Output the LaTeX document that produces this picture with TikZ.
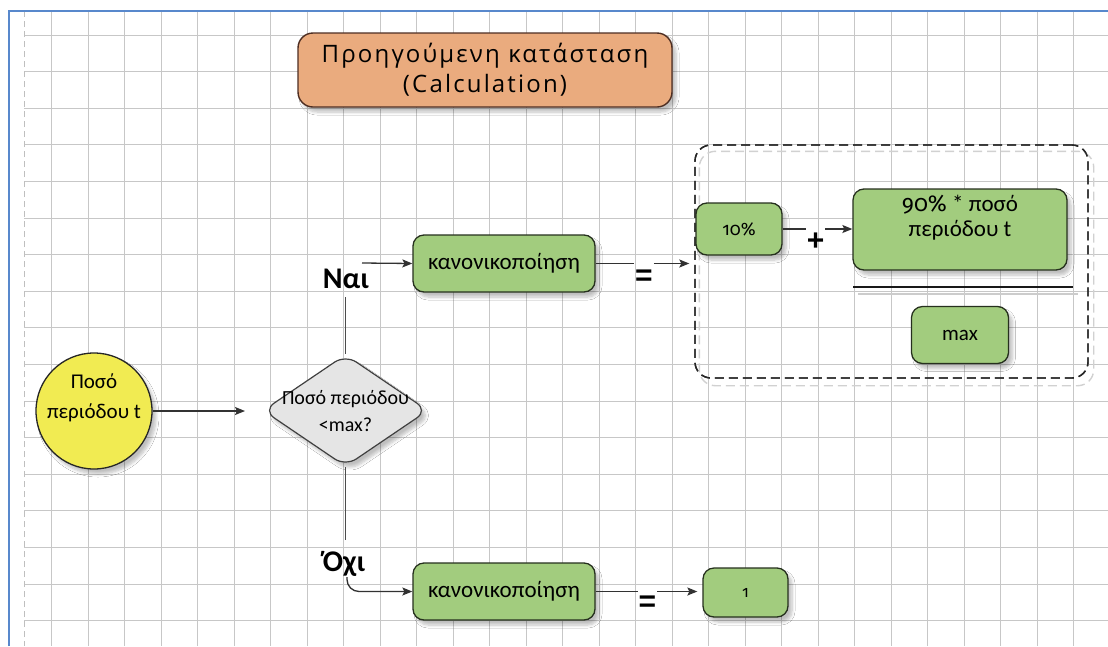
\documentclass[tikz,border=0pt]{standalone}
\usepackage{fontspec}
\setmainfont{Carlito}
\newfontfamily\titlefont{Open Sans}[LetterSpace=9]
\newfontfamily\oldnum{Fira Sans}[Numbers=OldStyle]
\newfontfamily\symfont{Liberation Sans}
\usetikzlibrary{shapes.geometric, arrows.meta, shadows.blur, calc}

\definecolor{boxgreen}{RGB}{162,204,126}
\definecolor{boxedge}{RGB}{38,48,30}
\definecolor{titlefill}{RGB}{234,171,126}
\definecolor{titleedge}{RGB}{78,46,34}
\definecolor{circfill}{RGB}{241,235,82}
\definecolor{diafill}{RGB}{229,229,229}
\definecolor{frameblue}{RGB}{88,136,204}
\definecolor{linegrey}{RGB}{50,50,50}

\tikzset{
  softshadow/.style={blur shadow={shadow xshift=4pt, shadow yshift=-5pt,
      shadow blur radius=3pt, shadow blur steps=6, shadow opacity=25}},
  gridline/.style={black!22, line width=0.9pt},
  greenbox/.style={draw=boxedge, line width=1.3pt, fill=boxgreen,
      rounded corners=11pt, softshadow, inner sep=0pt},
  titlebox/.style={draw=titleedge, line width=1.4pt, fill=titlefill,
      rounded corners=15pt, softshadow, align=center, inner sep=0pt},
  startcircle/.style={circle, draw=black!85, line width=1.3pt, fill=circfill,
      softshadow, inner sep=0pt},
  decision/.style={diamond, draw=black!75, line width=1.2pt, fill=diafill,
      rounded corners=13pt, softshadow, inner sep=0pt},
  groupbox/.style={draw=black!85, line width=1.4pt, dash pattern=on 9pt off 5pt,
      rounded corners=16pt, inner sep=0pt},
  groupshade/.style={draw=black!18, line width=1.4pt, dash pattern=on 9pt off 5pt,
      rounded corners=16pt},
  conn/.style={draw=linegrey, line width=1.3pt},
  arr/.style={conn, -{Stealth[length=10pt, width=8pt, inset=2pt]}},
  stem/.style={draw=black!70, line width=1.8pt},
  branchlabel/.style={font=\bfseries\fontsize{30}{32}\selectfont, inner sep=0pt},
  opsym/.style={font=\symfont\bfseries\fontsize{30}{30}\selectfont, inner sep=1pt},
  boxtext/.style={font=\fontsize{23}{26}\selectfont},
  shapetext/.style={align=center, inner sep=0pt},
}

\begin{document}
\begin{tikzpicture}[x=1pt, y=-1pt]
% page and bounding box
\fill[white] (0,0) rectangle (1108,646);
\useasboundingbox (0,0) rectangle (1108,646);

% squared paper
\foreach \i in {0,...,28} {
  \draw[gridline] ({51.5+36.5*\i},11) -- ({51.5+36.5*\i},646);
}
\foreach \j in {0,...,16} {
  \draw[gridline] (24,{35+36.6*\j}) -- (1108,{35+36.6*\j});
}
\draw[black!25, line width=0.9pt, dash pattern=on 6pt off 4pt] (24,11) -- (24,646);
\draw[frameblue, line width=1.6pt] (9,646) -- (9,11) -- (1108,11);

% heading
\node[titlebox, minimum width=374pt, minimum height=74pt,
      font=\titlefont\fontsize{24}{30}\selectfont] (title) at (485,70)
  {Προηγούμενη κατάσταση\\(Calculation)};

% input amount and the test on it
\node[startcircle, minimum size=116pt] (amt) at (94,411) {};
\node[shapetext, font=\fontsize{21}{30}\selectfont] (amtText) at (94,398)
  {Ποσό\\περιόδου t};
\node[decision, minimum width=165pt, minimum height=112pt] (dec) at (345.5,410.5) {};
\node[shapetext, font=\fontsize{20}{27}\selectfont] (decText) at (345.5,411)
  {Ποσό περιόδου\\<max?};
\coordinate (decIn) at (245,411);
\draw[arr] (amt.east) -- (decIn);

% yes branch
\coordinate (yesEnd) at (345.5,297);
\coordinate (yesStart) at (362,263);
\draw[stem] (dec.north) -- (yesEnd);
\node[branchlabel] (yes) at (346,279) {Ναι};
\node[greenbox, boxtext, minimum width=182pt, minimum height=57pt] (kan1) at (504,263.5) {κανονικοποίηση};
\draw[arr] (yesStart) -- (kan1.west);

% normalised value: (10% + 90% * amount) / max
\node[groupbox, minimum width=393pt, minimum height=233pt] (grp) at (891.5,261.5) {};
\draw[groupshade] ($(grp.north west)+(5,7)$) rectangle ($(grp.south east)+(5,7)$);
\node[groupbox, minimum width=393pt, minimum height=233pt] (grpTop) at (891.5,261.5) {};

\node[opsym] (eq1) at (644,278) {=};
\draw[conn] (kan1.east) -- (kan1.east -| eq1.west);
\draw[arr] (kan1.east -| eq1.east) -- ($(grp.west |- kan1.east)+(-5,0)$);

\node[greenbox, minimum width=86pt, minimum height=52pt, font=\oldnum\fontsize{18}{20}\selectfont] (p10) at (739,229) {10\%};
\node[greenbox, minimum width=214pt, minimum height=81pt] (p90) at (960,229.5) {};
\node[shapetext, font=\fontsize{23}{25}\selectfont] (p90Text) at (960,217.5)
  {{\oldnum 90\%} * ποσό\\περιόδου t};
\node[opsym] (plus) at (815.5,242) {+};
\draw[conn] (p10.east) -- (p10.east -| plus.west);
\draw[arr] (p10.east -| plus.east) -- (p90.west |- p10.east);

\coordinate (fracL) at (853,287);
\coordinate (fracR) at (1073,287);
\draw[black!20, line width=1.5pt] ($(fracL)+(5,7)$) -- ($(fracR)+(5,7)$);
\draw[black!90, line width=1.5pt] (fracL) -- (fracR);
\node[greenbox, minimum width=97pt, minimum height=57pt, font=\fontsize{21}{22}\selectfont] (mx) at (960,335) {max};

% no branch
\coordinate (noEnd) at (345.5,540);
\coordinate (noStart) at (347,577);
\draw[stem] (dec.south) -- (noEnd);
\node[branchlabel] (no) at (344,564) {Όχι};
\node[greenbox, boxtext, minimum width=182pt, minimum height=57pt] (kan2) at (504,591.5) {κανονικοποίηση};
\draw[arr, rounded corners=12pt] (noStart) |- (kan2.west);

\node[greenbox, minimum width=85pt, minimum height=49pt, font=\oldnum\fontsize{16}{18}\selectfont] (one) at (745.5,592.5) {1};
\node[opsym] (eq2) at (647.5,604) {=};
\draw[conn] (kan2.east) -- (kan2.east -| eq2.west);
\draw[arr] (kan2.east -| eq2.east) -- ($(one.west |- kan2.east)+(-5,0)$);
\end{tikzpicture}
\end{document}
